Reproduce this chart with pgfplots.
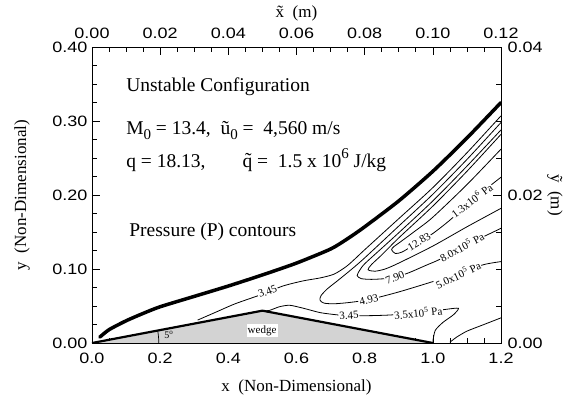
\documentclass[border=0pt]{standalone}
\usepackage{fontspec}
\setmainfont{Liberation Serif}
\newfontfamily\tickfont[FakeStretch=1.2]{Liberation Sans}
\usepackage{pgfplots}
\pgfplotsset{compat=1.18}
\definecolor{wedgegray}{RGB}{211,211,211}
\newcommand{\lab}[1]{\fontsize{#1}{#1}\selectfont}
\begin{document}
\begin{tikzpicture}
\begin{axis}[
  scale only axis, width=409pt, height=296pt,
  xmin=0, xmax=1.2, ymin=0, ymax=0.4,
  xtick={0,0.2,0.4,0.6,0.8,1.0,1.2},
  xticklabels={0.0,0.2,0.4,0.6,0.8,1.0,1.2},
  ytick={0,0.1,0.2,0.3,0.4},
  yticklabels={0.00,0.10,0.20,0.30,0.40},
  minor x tick num=3, minor y tick num=3,
  xtick pos=bottom, ytick pos=left, tick align=inside,
  major tick length=8pt, minor tick length=5pt,
  tick style={black, line width=0.6pt},
  axis line style={line width=0.8pt},
  ticklabel style={font=\tickfont\lab{15}},
  xticklabel style={yshift=-6pt},
  yticklabel style={xshift=-1pt},
  every axis x label/.style={at={(axis description cs:0.5,-0.1486)}, anchor=center},
  every axis y label/.style={at={(axis description cs:-0.171,0.5)}, rotate=90, anchor=center},
  label style={font=\lab{17}},
  xlabel={x\ \ (Non-Dimensional)},
  ylabel={y\ \ (Non-Dimensional)},
  clip=true,
]
% wedge
\addplot[fill=wedgegray, draw=none] coordinates {(0,0) (0.5,0.0437) (1.0,0)} -- cycle;
% contours
\addplot[black, line width=0.8pt, smooth, tension=0.45] coordinates {
(0.31,0.031)(0.36,0.041)(0.42,0.053)(0.50,0.066)(0.56,0.077)(0.62,0.084)(0.67,0.088)(0.71,0.093)(0.745,0.103)(0.77,0.113)(0.8,0.126)(0.9,0.168)(1.0,0.210)(1.1,0.257)(1.2,0.307)};
\addplot[black, line width=0.8pt, smooth, tension=0.45] coordinates {
(1.2,0.298)(1.1,0.248)(1.0,0.201)(0.9,0.158)(0.8,0.115)(0.76,0.099)(0.72,0.084)(0.69,0.073)(0.672,0.064)(0.669,0.058)(0.68,0.054)(0.71,0.053)(0.76,0.055)(0.816,0.059)(0.9,0.069)(1.0,0.083)(1.08,0.095)(1.15,0.106)(1.2,0.110)};
\addplot[black, line width=0.8pt, smooth, tension=0.45] coordinates {
(1.2,0.288)(1.1,0.239)(1.0,0.192)(0.9,0.149)(0.85,0.128)(0.80,0.107)(0.785,0.098)(0.778,0.091)(0.79,0.087)(0.82,0.086)(0.86,0.087)(0.89,0.089)(0.93,0.095)(0.98,0.105)(1.02,0.113)(1.08,0.129)(1.15,0.144)(1.2,0.155)};
\addplot[black, line width=0.8pt, smooth, tension=0.45] coordinates {
(1.2,0.282)(1.1,0.232)(1.0,0.185)(0.9,0.142)(0.85,0.119)(0.82,0.106)(0.81,0.099)(0.83,0.097)(0.86,0.100)(0.9,0.108)(1.0,0.131)(1.1,0.157)(1.2,0.182)};
\addplot[black, line width=0.8pt, smooth, tension=0.45] coordinates {
(1.2,0.262)(1.1,0.214)(1.0,0.170)(0.95,0.152)(0.9,0.135)(0.885,0.130)(0.879,0.126)(0.89,0.121)(0.91,0.123)(0.95,0.134)(1.0,0.148)(1.05,0.166)(1.1,0.187)(1.15,0.206)(1.2,0.224)};
\addplot[black, line width=0.8pt, smooth, tension=0.4] coordinates {
(0.50,0.0437)(0.52,0.044)(0.55,0.049)(0.58,0.051)(0.62,0.047)(0.67,0.041)(0.72,0.038)(0.75,0.037)(0.82,0.037)(0.88,0.038)(0.95,0.041)(1.03,0.045)(1.075,0.047)(1.06,0.038)(1.03,0.028)(1.007,0.017)(1.0,0.002)};
\addplot[black, line width=0.8pt, smooth, tension=0.4] coordinates {
(1.05,0.001)(1.07,0.008)(1.1,0.016)(1.15,0.025)(1.2,0.034)};
% shock
\addplot[black, line width=3.5pt, line cap=round, smooth, tension=0.4] coordinates {
(0.023,0.008)(0.05,0.018)(0.1,0.030)(0.15,0.040)(0.2,0.049)(0.3,0.063)(0.4,0.077)(0.5,0.092)(0.6,0.108)(0.7,0.127)(0.75,0.141)(0.8,0.157)(0.9,0.192)(1.0,0.232)(1.1,0.277)(1.2,0.325)};
% wedge outline
\addplot[black, line width=2.2pt] coordinates {(0,0) (0.5,0.0437) (1.0,0)};
% angle arc
\draw[black, line width=0.7pt] (axis cs:0.196,0) arc[start angle=0, end angle=10.8, radius=66.8pt];
\node[anchor=west, inner sep=0pt, font=\lab{10}] at (axis cs:0.212,0.011) {5\textsuperscript{o}};
\node[fill=white, inner sep=1.2pt, font=\lab{11}] at (axis cs:0.499,0.017) {wedge};
% contour labels
\begin{scope}[every node/.style={fill=white, inner sep=0.8pt, font=\lab{11}}]
\node[rotate=21] at (axis cs:0.515,0.070) {3.45};
\node[rotate=4] at (axis cs:0.754,0.037) {3.45};
\node[rotate=6] at (axis cs:0.957,0.041) {3.5x10\textsuperscript{5} Pa};
\node[rotate=14] at (axis cs:0.812,0.058) {4.93};
\node[rotate=25] at (axis cs:1.074,0.092) {5.0x10\textsuperscript{5} Pa};
\node[rotate=22] at (axis cs:0.889,0.0885) {7.90};
\node[rotate=28] at (axis cs:1.085,0.130) {8.0x10\textsuperscript{5} Pa};
\node[rotate=31] at (axis cs:0.960,0.137) {12.83};
\node[rotate=37] at (axis cs:1.114,0.193) {1.3x10\textsuperscript{6} Pa};
\end{scope}
% annotations
\begin{scope}[every node/.style={anchor=base west, inner sep=0pt, font=\lab{19.5}}]
\node at (axis cs:0.10,0.3405) {Unstable Configuration};
\node at (axis cs:0.10,0.2824) {M\raisebox{-0.3em}{\lab{15}0} = 13.4,\ \ \~{u}\raisebox{-0.3em}{\lab{15}0} =\ \ 4,560 m/s};
\node at (axis cs:0.10,0.2374) {q = 18.13,\hspace{1.9em}\~{q} =\ \ 1.5 x 10\raisebox{0.45em}{\lab{15}6} J/kg};
\node at (axis cs:0.109,0.1446) {Pressure (P) contours};
\end{scope}
\end{axis}
\begin{axis}[
  scale only axis, width=409pt, height=296pt,
  xmin=0, xmax=0.12, ymin=0, ymax=0.04,
  scaled x ticks=false, scaled y ticks=false,
  xtick={0,0.02,0.04,0.06,0.08,0.10,0.12},
  xticklabels={0.00,0.02,0.04,0.06,0.08,0.10,0.12},
  ytick={0,0.02,0.04},
  yticklabels={0.00,0.02,0.04},
  minor x tick num=3, minor y tick num=3,
  xtick pos=top, ytick pos=right, xticklabel pos=top, yticklabel pos=right,
  tick align=inside,
  major tick length=8pt, minor tick length=5pt,
  tick style={black, line width=0.6pt},
  axis line style={line width=0.8pt},
  ticklabel style={font=\tickfont\lab{15}},
  xticklabel style={yshift=5pt},
  yticklabel style={xshift=3pt},
  every axis x label/.style={at={(axis description cs:0.5,1.115)}, anchor=center},
  every axis y label/.style={at={(axis description cs:1.132,0.5)}, rotate=-90, anchor=center},
  label style={font=\lab{17}},
  xlabel={\~{x}\ \ (m)},
  ylabel={\~{y}\ \ (m)},
]
\end{axis}
\pgfresetboundingbox
\path[use as bounding box] (-92pt,-57pt) rectangle (486pt,343pt);
\end{tikzpicture}
\end{document}
